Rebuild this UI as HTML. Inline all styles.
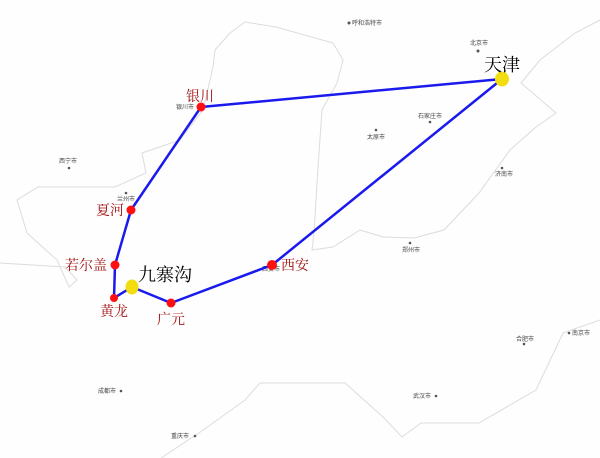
<!DOCTYPE html>
<html><head><meta charset="utf-8"><style>
html,body{margin:0;padding:0;background:#fff;overflow:hidden}
svg{display:block}
.s{font-family:"Liberation Sans","Noto Sans CJK SC",sans-serif;font-size:6px;fill:#444}
.r{font-family:"Liberation Serif","Noto Serif CJK SC",serif;font-size:14px;fill:#a01010}
.b{font-family:"Liberation Serif","Noto Serif CJK SC",serif;font-size:18px;fill:#000}
</style></head><body>
<svg width="600" height="458" viewBox="0 0 600 458">
<rect width="600" height="458" fill="#fefefe"/>
<g fill="none" stroke="#dcdcdc" stroke-width="1">
<path d="M0,263 L65,267 L77,280 L69,287 L57,260 L27,233 L17,200 L38,187 L77,187 L115,187 L146,173 L142,153 L180,140 L203,110 L213,67 L215,50 L230,33 L245,22 L276,27 L333,43 L343,60 L337,83 L322,110 L318,167 L314,233 L312,250 L333,247 L360,230 L383,237 L414,238 L444,230 L479,193 L510,150 L536,127 L556,113 L521,83 L540,60 L575,33 L600,20"/>
<path d="M161,458 L199,433 L245,400 L260,383 L345,383 L383,417 L402,437 L421,423 L479,423 L536,390 L563,333 L600,320"/>
</g>
<g fill="#555">
<circle cx="349" cy="23" r="1.5"/><circle cx="478" cy="51" r="1.5"/><circle cx="430" cy="122" r="1.3"/>
<circle cx="376" cy="130" r="1.3"/><circle cx="69" cy="168" r="1.3"/><circle cx="502" cy="168" r="1.3"/>
<circle cx="126" cy="193" r="1.3"/><circle cx="410" cy="243" r="1.3"/><circle cx="524" cy="344" r="1.3"/>
<circle cx="569" cy="333" r="1.3"/><circle cx="121" cy="391" r="1.3"/><circle cx="436" cy="396" r="1.3"/>
<circle cx="195" cy="436" r="1.3"/>
</g>
<g class="s">
<text x="352" y="25">呼和浩特市</text><text x="470" y="45">北京市</text><text x="418" y="118">石家庄市</text>
<text x="367" y="139">太原市</text><text x="59" y="163">西宁市</text><text x="495" y="176">济南市</text>
<text x="117" y="201">兰州市</text><text x="402" y="252">郑州市</text><text x="516" y="341">合肥市</text>
<text x="572" y="335">南京市</text><text x="98" y="393">成都市</text><text x="413" y="398">武汉市</text>
<text x="176" y="109">银川市</text><text x="171" y="438">重庆市</text><text x="262" y="271">西安市</text>
</g>
<g stroke="#1a1aee" stroke-width="2.5" fill="none" stroke-linejoin="round">
<polyline points="502,79 201,107 131,210 115,265 114,298 132,287 171,303 272,265 502,79"/>
</g>
<g fill="#ff1010">
<circle cx="201" cy="107" r="4.5"/><circle cx="131" cy="210" r="4.5"/><circle cx="115" cy="265" r="4.5"/>
<circle cx="114" cy="298" r="4"/><circle cx="171" cy="303" r="4.5"/><circle cx="272" cy="265" r="5"/>
</g>
<g fill="#f2dd10">
<ellipse cx="502" cy="79" rx="7" ry="7.5"/><ellipse cx="132" cy="287" rx="6.5" ry="7.5"/>
</g>
<g class="r">
<text x="186" y="101">银川</text><text x="96" y="215">夏河</text><text x="65" y="270">若尔盖</text>
<text x="100" y="316">黄龙</text><text x="157" y="324">广元</text><text x="281" y="270">西安</text>
</g>
<text class="b" x="484" y="71">天津</text>
<text class="b" x="138" y="281">九寨沟</text>
</svg>
</body></html>
